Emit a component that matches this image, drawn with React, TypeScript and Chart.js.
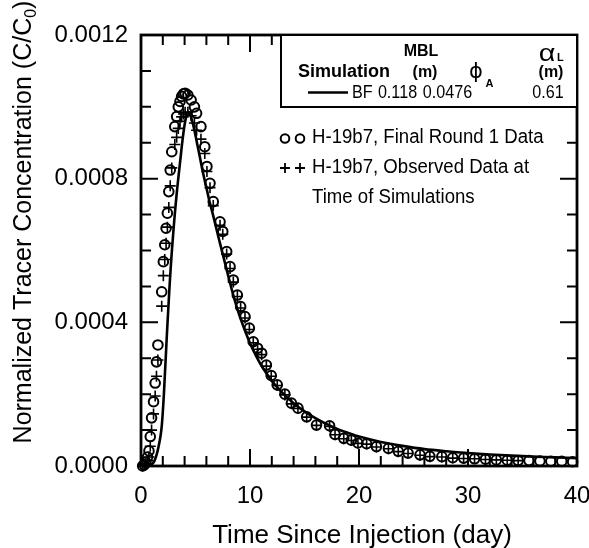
import React, { useEffect, useRef } from "react";
import { Chart, registerables } from "chart.js";

Chart.register(...registerables);

const FONT = '"Liberation Sans", Arial, Helvetica, sans-serif';

// Time since injection (day)
const bfTime = [0, 0.5, 0.8, 1.0, 1.2, 1.4, 1.6, 1.8, 1.9, 2.0, 2.1, 2.2, 2.3, 2.4, 2.5, 2.6, 2.7, 2.8, 2.9, 3.0, 3.2, 3.4, 3.6, 3.8, 4.0, 4.2, 4.35, 4.5, 4.7, 4.9, 5.1, 5.4, 5.7, 6.0, 6.3, 6.6, 7.0, 7.5, 8.0, 8.5, 9.0, 9.5, 10, 10.5, 11, 12, 13, 14, 15, 16, 17, 18, 19, 20, 22, 24, 26, 28, 30, 32, 34, 36, 38, 40];
// Normalized concentration, in units of 1e-4 C/C0
const bfConc = [0, 0.005, 0.02, 0.05, 0.12, 0.28, 0.52, 0.85, 1.1, 1.5, 2.0, 2.6, 3.2, 3.8, 4.35, 4.9, 5.4, 5.85, 6.25, 6.65, 7.35, 7.95, 8.5, 9.05, 9.5, 9.8, 9.86, 9.8, 9.6, 9.35, 9.05, 8.6, 8.15, 7.75, 7.35, 7.0, 6.5, 5.9, 5.3, 4.72, 4.22, 3.8, 3.42, 3.1, 2.82, 2.37, 2.03, 1.75, 1.52, 1.33, 1.17, 1.03, 0.92, 0.82, 0.67, 0.56, 0.47, 0.41, 0.36, 0.32, 0.29, 0.26, 0.24, 0.22];

const finalTime = [0.15, 0.3, 0.45, 0.6, 0.73, 0.85, 0.97, 1.15, 1.3, 1.42, 1.55, 1.9, 2.05, 2.18, 2.3, 2.42, 2.55, 2.68, 2.82, 3.1, 3.27, 3.42, 3.58, 3.73, 3.9, 4.05, 4.3, 4.6, 4.9, 5.1, 5.5, 5.85, 6.05, 6.33, 6.63, 7.25, 7.5, 7.86, 8.17, 8.47, 8.84, 9.14, 9.54, 9.94, 10.3, 10.7, 11.07, 11.5, 11.95, 12.5, 13.2, 13.8, 14.4, 15.2, 16.1, 17.3, 17.8, 18.6, 19.3, 19.9, 20.7, 21.6, 22.7, 23.6, 24.5, 25.6, 26.5, 27.6, 28.6, 29.6, 30.6, 31.6, 32.6, 33.6, 34.6, 35.6, 36.6, 37.6, 38.6, 39.6];
const finalConc = [0.0, 0.03, 0.1, 0.25, 0.42, 0.82, 1.34, 1.79, 2.31, 2.9, 3.37, 4.85, 5.69, 6.16, 6.62, 7.04, 7.64, 8.24, 8.75, 9.45, 9.73, 10.0, 10.15, 10.29, 10.36, 10.38, 10.33, 10.19, 10.0, 9.82, 9.45, 8.89, 8.34, 7.87, 7.36, 6.8, 6.53, 5.97, 5.55, 5.18, 4.76, 4.44, 4.16, 3.84, 3.46, 3.28, 3.14, 2.81, 2.52, 2.26, 2.0, 1.75, 1.61, 1.37, 1.14, 1.12, 0.88, 0.77, 0.72, 0.64, 0.62, 0.54, 0.49, 0.41, 0.36, 0.31, 0.27, 0.26, 0.23, 0.22, 0.2, 0.19, 0.17, 0.16, 0.15, 0.15, 0.14, 0.13, 0.13, 0.12];

const observedTime = [0.15, 0.3, 0.45, 0.6, 0.73, 0.85, 0.97, 1.15, 1.3, 1.42, 1.55, 1.9, 2.05, 2.18, 2.3, 2.42, 2.55, 2.68, 2.82, 3.1, 3.27, 3.42, 3.58, 3.73, 3.9, 4.05, 4.3, 4.6, 4.9, 5.1, 5.5, 5.85, 6.05, 6.33, 6.63, 7.25, 7.5, 7.86, 8.17, 8.47, 8.84, 9.14, 9.54, 9.94, 10.3, 10.7, 11.07, 11.5, 11.95, 12.5, 13.2, 13.8, 14.4, 15.2, 16.1, 17.3, 17.8, 18.6, 19.3, 19.9, 20.7, 21.6, 22.7, 23.6, 24.5, 25.6, 26.5, 27.6, 28.6, 29.6, 30.6, 31.6, 32.6, 33.6, 34.6];
const observedConc = [0.0, 0.02, 0.06, 0.15, 0.25, 0.55, 1.0, 1.45, 1.95, 2.5, 2.95, 4.45, 5.3, 5.75, 6.2, 6.65, 7.2, 7.8, 8.3, 8.95, 9.15, 9.4, 9.6, 9.72, 9.8, 9.85, 9.85, 9.75, 9.55, 9.35, 9.1, 8.7, 8.2, 7.75, 7.25, 6.7, 6.45, 5.9, 5.5, 5.12, 4.72, 4.4, 4.12, 3.8, 3.43, 3.25, 3.1, 2.78, 2.5, 2.24, 1.98, 1.73, 1.6, 1.36, 1.13, 1.1, 0.87, 0.76, 0.71, 0.63, 0.61, 0.53, 0.48, 0.4, 0.35, 0.3, 0.26, 0.25, 0.22, 0.21, 0.2, 0.18, 0.17, 0.16, 0.15];

const xTickLabels = ["0", "10", "20", "30", "40"];
const yTickLabels = ["0.0000", "0.0004", "0.0008", "0.0012"];

const simName = ["BF"];
const simMBL = ["0.118"];
const simPhiA = ["0.0476"];
const simAlphaL = ["0.61"];
const seriesNames = ["H-19b7, Final Round 1 Data", "H-19b7, Observed Data at", "Time of Simulations"];

const toPoints = (xs: number[], ys: number[]) => xs.map((x, i) => ({ x, y: ys[i] }));

function txt(ctx: CanvasRenderingContext2D, s: string, x: number, y: number, font: string, align: CanvasTextAlign = "left", sx = 1, baseline: CanvasTextBaseline = "middle") {
  ctx.save();
  ctx.font = font;
  ctx.textAlign = align;
  ctx.textBaseline = baseline;
  ctx.translate(x, y);
  ctx.scale(sx, 1);
  ctx.fillText(s, 0, 0);
  ctx.restore();
}

const framePlugin = {
  id: "frame",
  afterDatasetsDraw(chart: any) {
    const ctx: CanvasRenderingContext2D = chart.ctx;
    const { left, right, top, bottom } = chart.chartArea;
    const xs = chart.scales.x;
    const ys = chart.scales.y;
    ctx.save();
    ctx.strokeStyle = "#000";
    ctx.lineWidth = 2;
    ctx.beginPath();
    for (let t = 0; t <= 40; t += 2) {
      const px = xs.getPixelForValue(t);
      const len = t % 10 === 0 ? 17 : 10;
      ctx.moveTo(px, bottom);
      ctx.lineTo(px, bottom - len);
      ctx.moveTo(px, top);
      ctx.lineTo(px, top + len);
    }
    for (let v = 0; v <= 12; v += 1) {
      const py = ys.getPixelForValue(v);
      const len = v % 4 === 0 ? 17 : 10;
      ctx.moveTo(left, py);
      ctx.lineTo(left + len, py);
      ctx.moveTo(right, py);
      ctx.lineTo(right - len, py);
    }
    ctx.stroke();
    ctx.lineWidth = 2.8;
    ctx.strokeRect(left, top, right - left, bottom - top);
    ctx.restore();
  },
  afterDraw(chart: any) {
    const ctx: CanvasRenderingContext2D = chart.ctx;
    const { left, right, top, bottom } = chart.chartArea;
    ctx.save();
    ctx.fillStyle = "#000";
    ctx.strokeStyle = "#000";

    // Axis titles
    txt(ctx, "Time Since Injection (day)", 362, 543, `26px ${FONT}`, "center", 1, "alphabetic");
    ctx.save();
    ctx.translate(31, 222);
    ctx.rotate(-Math.PI / 2);
    ctx.font = `25px ${FONT}`;
    const mainT = "Normalized Tracer Concentration (C/C";
    const subF = `16px ${FONT}`;
    const wMain = ctx.measureText(mainT).width;
    ctx.font = subF;
    const wSub = ctx.measureText("0").width;
    ctx.font = `25px ${FONT}`;
    const wEnd = ctx.measureText(")").width;
    const total = wMain + wSub + wEnd;
    let cx = -total / 2;
    ctx.textBaseline = "alphabetic";
    ctx.textAlign = "left";
    ctx.fillText(mainT, cx, 0);
    cx += wMain;
    ctx.font = subF;
    ctx.fillText("0", cx, 5);
    cx += wSub;
    ctx.font = `25px ${FONT}`;
    ctx.fillText(")", cx, 0);
    ctx.restore();

    // Simulation box
    const bx = 281, by = top, bw = right - 281, bh = 107 - top;
    ctx.fillStyle = "#fff";
    ctx.fillRect(bx, by, bw, bh);
    ctx.fillStyle = "#000";
    ctx.lineWidth = 2;
    ctx.strokeRect(bx, by, bw, bh);

    txt(ctx, "MBL", 421, 52, `bold 16px ${FONT}`, "center");
    txt(ctx, "α", 547, 61, `24px ${FONT}`, "center", 1.2, "alphabetic");
    txt(ctx, "L", 557, 60.5, `bold 11px ${FONT}`, "left", 1, "alphabetic");
    txt(ctx, "Simulation", 344, 72.5, `bold 18px ${FONT}`, "center");
    txt(ctx, "(m)", 425, 72.5, `bold 16px ${FONT}`, "center");
    txt(ctx, "ϕ", 476, 73, `21px "DejaVu Sans", ${FONT}`, "center");
    txt(ctx, "A", 485.5, 87, `bold 11px ${FONT}`, "left", 1, "alphabetic");
    txt(ctx, "(m)", 551, 72.5, `bold 16px ${FONT}`, "center");

    ctx.lineWidth = 2.5;
    ctx.beginPath();
    ctx.moveTo(308, 92.5);
    ctx.lineTo(348, 92.5);
    ctx.stroke();
    txt(ctx, simName[0], 352, 92.5, `19px ${FONT}`, "left", 0.85);
    txt(ctx, simMBL[0], 397.5, 92.5, `19px ${FONT}`, "center", 0.85);
    txt(ctx, simPhiA[0], 447.5, 92.5, `19px ${FONT}`, "center", 0.85);
    txt(ctx, simAlphaL[0], 548, 92.5, `19px ${FONT}`, "center", 0.85);

    // Series legend
    ctx.lineWidth = 2;
    for (const mx of [285, 300]) {
      ctx.beginPath();
      ctx.arc(mx, 138.5, 4.3, 0, Math.PI * 2);
      ctx.stroke();
    }
    ctx.lineWidth = 1.8;
    ctx.beginPath();
    for (const mx of [285, 300]) {
      ctx.moveTo(mx - 5, 168);
      ctx.lineTo(mx + 5, 168);
      ctx.moveTo(mx, 163);
      ctx.lineTo(mx, 173);
    }
    ctx.stroke();
    txt(ctx, seriesNames[0], 312, 137, `20px ${FONT}`, "left", 0.93);
    txt(ctx, seriesNames[1], 312, 167.5, `20px ${FONT}`, "left", 0.93);
    txt(ctx, seriesNames[2], 312, 197.5, `20px ${FONT}`, "left", 0.93);
    ctx.restore();
  },
};

export default function App() {
  const canvasRef = useRef<HTMLCanvasElement | null>(null);

  useEffect(() => {
    document.body.style.margin = "0";
    const canvas = canvasRef.current;
    if (!canvas) return;
    const chart = new Chart(canvas, {
      type: "scatter",
      data: {
        datasets: [
          {
            label: "BF",
            data: toPoints(bfTime, bfConc),
            showLine: true,
            borderColor: "#000",
            borderWidth: 2.6,
            pointRadius: 0,
            tension: 0.3,
            order: 3,
            clip: false as any,
          },
          {
            label: "H-19b7, Final Round 1 Data",
            data: toPoints(finalTime, finalConc),
            showLine: false,
            pointStyle: "circle",
            pointRadius: 4.8,
            pointBorderWidth: 2,
            borderColor: "#000",
            backgroundColor: "rgba(0,0,0,0)",
            order: 2,
            clip: false as any,
          },
          {
            label: "H-19b7, Observed Data at Time of Simulations",
            data: toPoints(observedTime, observedConc),
            showLine: false,
            pointStyle: "cross",
            pointRadius: 5.5,
            pointBorderWidth: 1.6,
            borderColor: "#000",
            backgroundColor: "#000",
            order: 1,
            clip: false as any,
          },
        ],
      },
      options: {
        animation: false,
        responsive: false,
        maintainAspectRatio: false,
        devicePixelRatio: 1,
        layout: { padding: { left: 0, top: 35, right: 12, bottom: 0 } },
        plugins: { legend: { display: false }, tooltip: { enabled: false } },
        scales: {
          x: {
            type: "linear",
            min: 0,
            max: 40,
            grid: { display: false, drawTicks: false },
            border: { display: false },
            ticks: {
              stepSize: 10,
              padding: 16,
              color: "#000",
              font: { family: FONT, size: 24 },
              maxRotation: 0,
              callback: (v: any) => xTickLabels[Math.round(Number(v) / 10)] ?? "",
            },
            afterFit: (s: any) => {
              s.height = 82;
              s.paddingLeft = 0;
              s.paddingRight = 0;
            },
          },
          y: {
            type: "linear",
            min: 0,
            max: 12,
            grid: { display: false, drawTicks: false },
            border: { display: false },
            ticks: {
              stepSize: 4,
              padding: 13,
              color: "#000",
              font: { family: FONT, size: 24 },
              callback: (v: any) => yTickLabels[Math.round(Number(v) / 4)] ?? "",
            },
            afterFit: (s: any) => {
              s.width = 141;
              s.paddingTop = 0;
              s.paddingBottom = 0;
            },
          },
        },
      },
      plugins: [framePlugin],
    });
    return () => chart.destroy();
  }, []);

  return (
    <div style={{ width: 589, height: 548, position: "relative" }}>
      <canvas ref={canvasRef} width={589} height={548} style={{ display: "block", width: 589, height: 548 }} />
    </div>
  );
}
